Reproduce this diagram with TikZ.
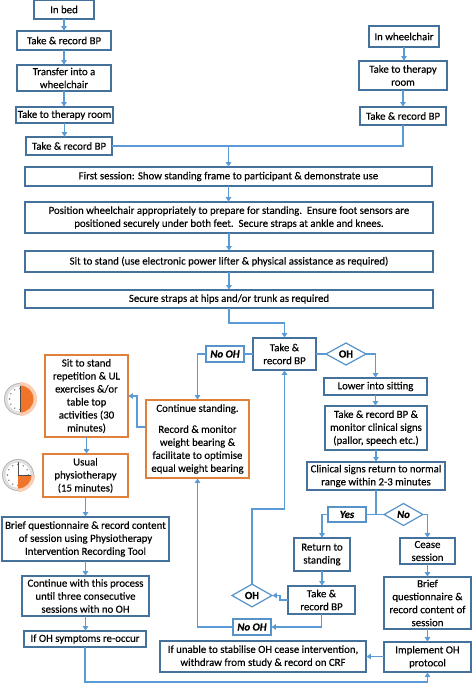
\documentclass[tikz,border=0pt]{standalone}
\usepackage{fontspec}
\setmainfont{Carlito}[FakeBold=0.25]
\usetikzlibrary{arrows.meta,shapes.geometric,calc}
\definecolor{boxblue}{HTML}{44729D}
\definecolor{lineblue}{HTML}{5B9BD5}
\definecolor{orangeb}{HTML}{E0803A}
\definecolor{wedge}{HTML}{F0742A}
\newcommand\bx[7][box]{\node[#1,minimum width={(#5-#3)*0.75pt},minimum height={(#6-#4)*0.75pt}] (#2) at ({(#3+#5)/2},{(#4+#6)/2}) {#7};}
\newcommand\clockface[4]{%
  \fill[black!28] (#1,#2) circle (16);
  \fill[black!12] (#1,#2) circle (15);
  \fill[white] (#1,#2) circle (12.5);
  \foreach \a in {0,30,...,330}{\fill[black!55] ($(#1,#2)+(\a:10.5)$) circle (0.8);}
  \fill[wedge!35] (#1,#2) -- +(#3:17) arc[start angle=#3,end angle=#4,radius=17] -- cycle;
  \fill[wedge] (#1,#2) -- +(#3:13.5) arc[start angle=#3,end angle=#4,radius=13.5] -- cycle;
}
\tikzset{
  x=0.75pt,y=-0.75pt,
  txt/.style={font=\fontsize{8.1}{9.75}\selectfont,align=center,inner sep=0pt,outer sep=0pt,text=black},
  box/.style={txt,draw=boxblue,line width=1.15pt,fill=white},
  obox/.style={txt,draw=orangeb,line width=1.25pt,fill=white},
  lbox/.style={txt,draw=lineblue!80!boxblue,line width=0.9pt,fill=white,font=\fontsize{8.1}{9.75}\selectfont\bfseries\itshape},
  dia/.style={txt,shape=diamond,aspect=1.8,draw=lineblue!80!boxblue,line width=0.9pt,fill=white,font=\fontsize{8.1}{9.75}\selectfont\bfseries},
  conn/.style={draw=lineblue,line width=0.85pt},
  arr/.style={conn,-{Latex[length=3.6pt,width=4.6pt]}},
}
\begin{document}
\begin{tikzpicture}
\useasboundingbox (0,0) rectangle (472,683);
\fill[white] (0,0) rectangle (472,683);
% left entry column
\bx{bed}{34}{0}{94}{19}{In bed}
\bx{bpa}{17}{31}{111}{50}{Take \& record BP}
\bx{transfer}{17}{65}{111}{91}{Transfer into a\\wheelchair}
\bx{therapy}{16}{107}{113}{123}{Take to therapy room}
\bx{bpb}{26}{137}{112}{155}{Take \& record BP}
% right entry column
\bx{chair}{369}{26}{439}{47}{In wheelchair}
\bx{therapyr}{359}{61}{447}{90}{Take to therapy\\room}
\bx{bpr}{360}{107}{446}{125}{Take \& record BP}
% wide boxes
\bx{first}{25}{167}{432}{186}{First session: Show standing frame to participant \& demonstrate use}
\bx{position}{25}{202}{433}{233}{Position wheelchair appropriately to prepare for standing.\ \ Ensure foot sensors are\\positioned securely under both feet.\ \ Secure straps at ankle and knees.}
\bx{sitstand}{25}{251}{433}{272}{Sit to stand (use electronic power lifter \& physical assistance as required)}
\bx{secure}{25}{290}{433}{308}{Secure straps at hips and/or trunk as required}
% centre
\bx{bpc}{253}{338}{316}{370}{Take \&\\record BP}
\bx[lbox]{noa}{206}{346}{244}{362}{No OH}
\node[dia,minimum width=30pt,minimum height=16.5pt] (oha) at (346,354) {OH};
\bx{lower}{324}{378}{427}{395}{Lower into sitting}
\bx{monitor}{325}{406}{427}{450}{Take \& record BP \&\\monitor clinical signs\\(pallor, speech etc.)}
\bx{clinical}{307}{462}{445}{490}{Clinical signs return to normal\\range within 2-3 minutes}
\bx[lbox]{yes}{328}{507}{366}{522}{Yes}
\node[dia,font=\fontsize{8.1}{9.75}\selectfont\bfseries\itshape,minimum width=29pt,minimum height=16.5pt] (nod) at (403.5,514.5) {No};
\bx{return}{294}{538}{350}{571}{Return to\\standing}
\bx{cease}{400}{538}{455}{564}{Cease\\session}
\bx{bpl}{288}{586}{355}{614}{Take \&\\record BP}
\node[dia,minimum width=30pt,minimum height=17pt] (ohl) at (252,595.5) {OH};
\bx[lbox]{nol}{233}{619}{271}{635}{No OH}
\bx{briefr}{384}{577}{471}{629}{Brief\\questionnaire \&\\record content of\\session}
\bx{implement}{384}{642}{471}{672}{Implement OH\\protocol}
\bx{unable}{160}{641}{366}{672}{If unable to stabilise OH cease intervention,\\withdraw from study \& record on CRF}
% orange
\bx[obox]{sit}{45}{355}{128}{437}{Sit to stand\\repetition \& UL\\exercises \&/or\\table top\\activities (30\\minutes)}
\bx[obox]{usual}{43}{454}{128}{497}{Usual\\physiotherapy\\(15 minutes)}
\bx[obox]{cont}{146}{400}{249}{478}{Continue standing.\\[6pt]Record \& monitor\\weight bearing \&\\facilitate to optimise\\equal weight bearing}
% left lower
\bx{briefl}{2}{517}{169}{561}{Brief questionnaire \& record content\\of session using Physiotherapy\\Intervention Recording Tool}
\bx{until}{22}{576}{149}{616}{Continue with this process\\until three consecutive\\sessions with no OH}
\bx{symptoms}{24}{631}{146}{647}{If OH symptoms re-occur}
% clocks
\clockface{20}{399}{-90}{90}
\clockface{18}{475}{0}{90}
\draw[black!70,line width=0.6pt] (20,386) -- (20,412);
\draw[black!70,line width=0.6pt] (18,462) -- (18,475) -- (31,475);
% connectors
\draw[arr] (bed.south) -- (bed.south |- bpa.north);
\draw[arr] (bpa.south) -- (bpa.south |- transfer.north);
\draw[arr] (transfer.south) -- (transfer.south |- therapy.north);
\draw[arr] (therapy.south) -- (therapy.south |- bpb.north);
\draw[arr] (chair.south) -- (chair.south |- therapyr.north);
\draw[arr] (therapyr.south) -- (therapyr.south |- bpr.north);
\draw[conn] (bpb.east) -- (first.north |- bpb.east);
\draw[conn] (bpr.south) |- (first.north |- bpb.east);
\draw[arr] (first.north |- bpb.east) -- (first.north);
\draw[arr] (first.south) -- (first.south |- position.north);
\draw[arr] (position.south) -- (position.south |- sitstand.north);
\draw[arr] (sitstand.south) -- (sitstand.south |- secure.north);
\draw[arr] (secure.south) -- ++(0,15) -| (bpc.north);
\draw[conn] (bpc.west) -- (noa.east);
\draw[arr] (noa.west) -| (cont.north);
\draw[conn] (bpc.east) -- (oha.west);
\draw[arr] (oha.east) -| (lower.north);
\draw[arr] (lower.south) -- (lower.south |- monitor.north);
\draw[arr] (monitor.south) -- (monitor.south |- clinical.north);
\draw[conn] (clinical.south) -- (clinical.south |- yes.east);
\draw[conn] (yes.east) -- (nod.west);
\draw[arr] (yes.west) -| (return.north);
\draw[arr] (nod.east) -| (cease.north);
\draw[arr] (return.south) -- (return.south |- bpl.north);
\draw[arr] (bpl.west) -- ++(-8,0) |- (ohl.east);
\draw[arr] (bpl.south) |- (nol.east);
\draw[arr] (nol.west) -| (cont.south);
\coordinate (riser) at (284.5,509);
\draw[arr] (ohl.north) |- (riser) -- (bpc.south);
\draw[arr] (cease.south) -- (cease.south |- briefr.north);
\draw[arr] (briefr.south) -- (briefr.south |- implement.north);
\draw[arr] (implement.west |- unable.east) -- (unable.east);
\draw[arr] ([yshift=9pt]cont.west) -- ++(-9,0) |- (sit.east);
\draw[arr] (sit.south) -- (sit.south |- usual.north);
\draw[arr] (usual.south) -- (usual.south |- briefl.north);
\draw[arr] (briefl.south) -- (briefl.south |- until.north);
\draw[arr] (until.south) -- (until.south |- symptoms.north);
\draw[arr] (symptoms.south) -- ++(0,35) -| (implement.south);
\end{tikzpicture}
\end{document}
